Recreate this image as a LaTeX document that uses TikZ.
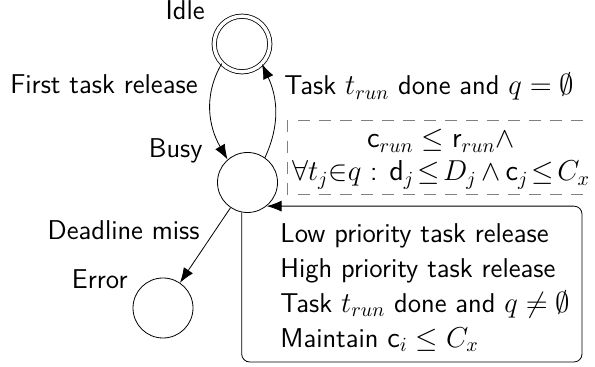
\documentclass[tikz,border=0pt]{standalone}
\usetikzlibrary{arrows.meta}
\begin{document}
\begin{tikzpicture}[x=0.5pt,y=0.5pt,
  every node/.style={font=\sffamily\fontsize{13.6}{16}\selectfont},
  state/.style={circle,draw,minimum size=30pt,inner sep=0pt},
  accept/.style={circle,draw,double,double distance=1.75pt,minimum size=27.8pt,inner sep=0pt},
  lbl/.style={inner sep=0pt},
  arr/.style={-{Latex[length=7.5pt,width=5.5pt]}},
  dashline/.style={draw=gray,dash pattern=on 6pt off 4.5pt},
]
\useasboundingbox (0,0) rectangle (595,-367);
% states
\node[accept] (idle) at (242,-44) {};
\node[state] (busy) at (247.5,-182.5) {};
\node[state] (error) at (163,-308) {};
% state labels
\node[lbl,anchor=base east] (idleL) at (205,-20) {Idle};
\node[lbl,anchor=base east] (busyL) at (203,-158) {Busy};
\node[lbl,anchor=base east] (errorL) at (128,-289) {Error};
% transitions
\draw[arr] (idle.224) to[out=240,in=120] (busy.131);
\draw[arr] (busy.55) to[out=65,in=295] (idle.315);
\draw[arr] (busy) -- (error);
\draw[arr,rounded corners=4pt] (busy.259) |- (582,-362) |- (busy.-51);
% transition labels
\node[lbl,anchor=base east] (firstL) at (198,-94) {First task release};
\node[lbl,anchor=base west] (doneL) at (284,-95) {Task $t_{run}$ done and $q=\emptyset$};
\node[lbl,anchor=base east] (missL) at (200,-240) {Deadline miss};
% invariant
\draw[dashline] (287,-120) -- (287,-203);
\draw[dashline] (298,-120) -- (586,-120);
\draw[dashline] (298,-194) -- (586,-194);
\node[lbl,align=center,anchor=north,font=\sffamily\fontsize{13.6}{16.5}\selectfont] (cond) at (441,-129)
  {$\mathsf{c}_{run} \leq \mathsf{r}_{run}\wedge$\\
   $\forall t_j{\in}q$ : $\thickmuskip=2mu\medmuskip=3mu\mathsf{d}_j \leq D_j \wedge \mathsf{c}_j \leq C_x$};
% self-loop labels
\node[lbl,align=left,anchor=north west,font=\sffamily\fontsize{13.6}{17.5}\selectfont] (loopL) at (280,-223)
  {Low priority task release\\
   High priority task release\\
   Task $t_{run}$ done and $q\neq\emptyset$\\
   Maintain $\mathsf{c}_i \leq C_x$};
\end{tikzpicture}
\end{document}
